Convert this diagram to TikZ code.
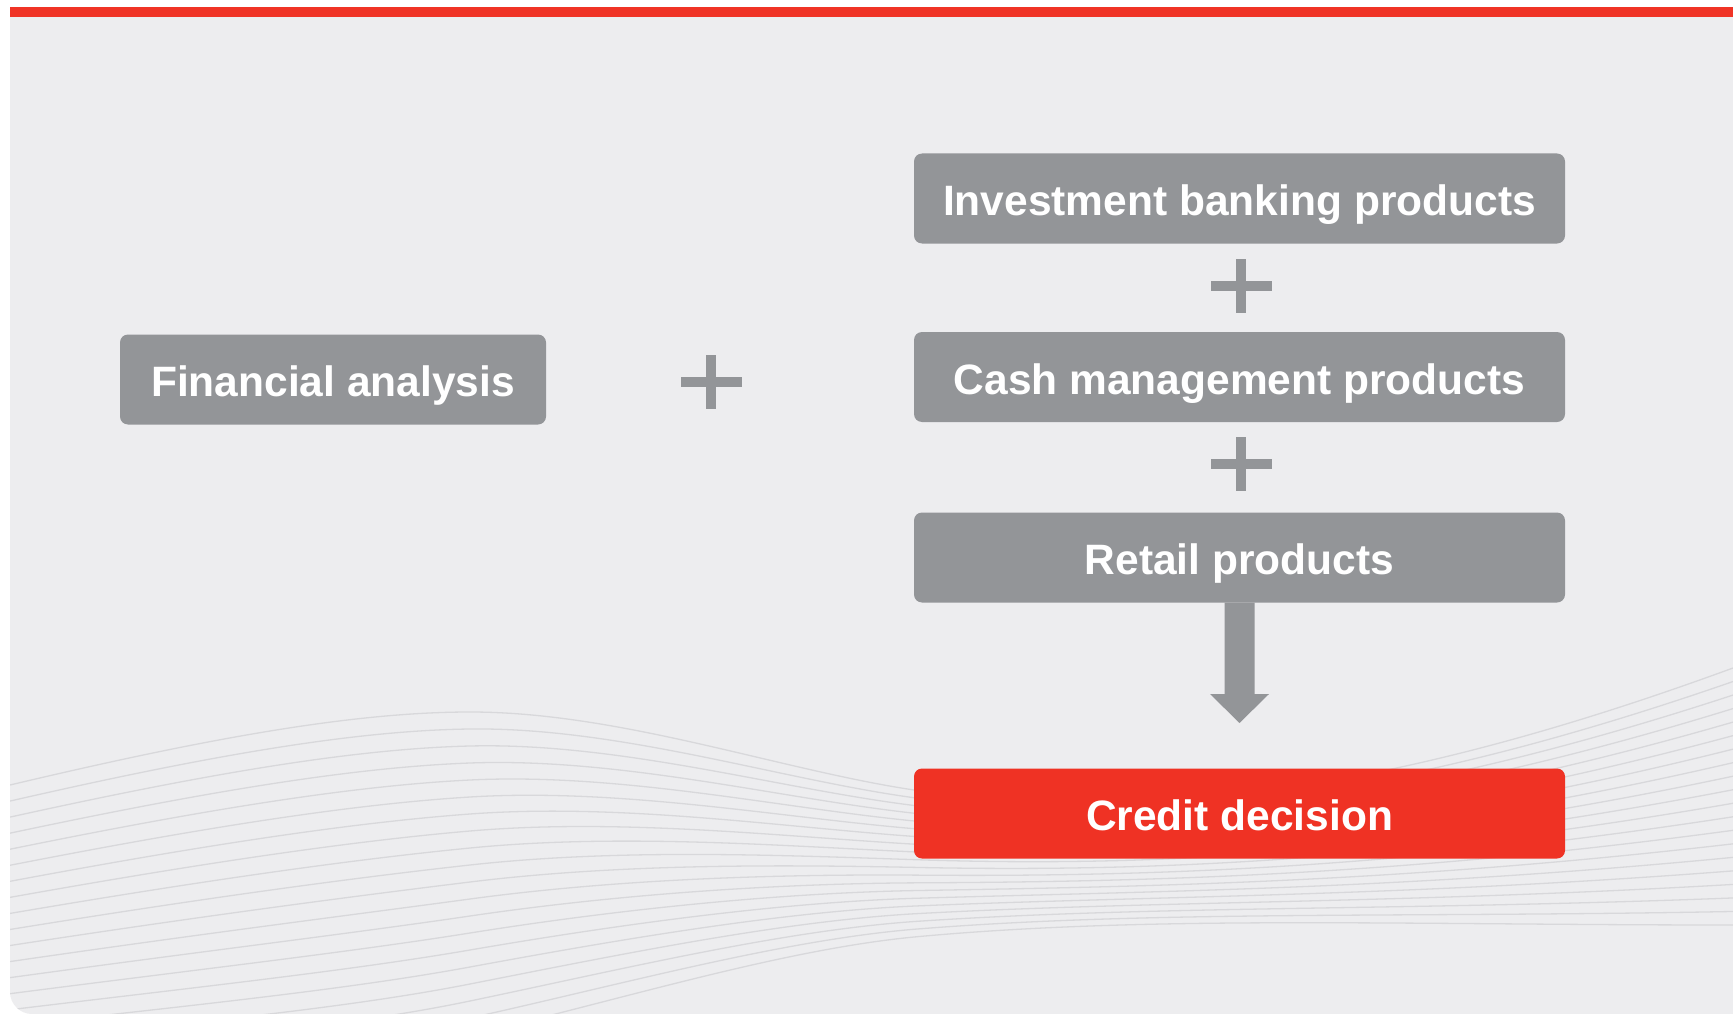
\documentclass[tikz,border=0pt]{standalone}
\usepackage{fontspec}
\setmainfont{Liberation Sans}
\usetikzlibrary{calc}
\definecolor{bg}{RGB}{237,237,239}
\definecolor{boxgray}{RGB}{147,149,152}
\definecolor{cred}{RGB}{239,50,36}
\definecolor{barred}{RGB}{240,52,38}
\definecolor{wave}{RGB}{216,216,219}
\begin{document}
\begin{tikzpicture}[x=1pt,y=-1pt,
  blk/.style={rounded corners=8pt, minimum height=90pt, inner sep=0pt, text=white,
    font=\fontsize{42.5}{50}\selectfont\bfseries, text height=34pt, text depth=0pt},
  graybox/.style={blk, fill=boxgray, minimum width=651pt},
  redbox/.style={blk, fill=cred, minimum width=651pt},
  wavestyle/.style={draw=wave, line width=1.3pt},
  plusmark/.pic={\fill[boxgray] (-30.5,-5) rectangle (30.5,5); \fill[boxgray] (-5,-27) rectangle (5,27);}]
\useasboundingbox (0,0) rectangle (1733,1014);
\fill[white] (0,0) rectangle (1733,1014);
% panel
\fill[bg] (1733,1014) -- (1733,17) -- (10,17) -- (10,992) .. controls (10,1004) and (20,1014) .. (32,1014) -- cycle;
\fill[barred] (10,7) rectangle (1733,17);
% waves
\begin{scope}
\clip (1733,1014) -- (1733,17) -- (10,17) -- (10,992) .. controls (10,1004) and (20,1014) .. (32,1014) -- cycle;
\foreach \i in {0,...,19}{
  \pgfmathsetmacro\t{\i/19}
  \draw[wavestyle] ($(10,785)!\t!(10,1090)$)
    .. controls ($(200,740)!\t!(200,1075)$) and ($(350,712)!\t!(350,1063)$) .. ($(470,712)!\t!(470,1035)$)
    .. controls ($(620,712)!\t!(620,1000)$) and ($(780,770)!\t!(780,950)$) .. ($(914,790)!\t!(914,937)$)
    .. controls ($(1150,825)!\t!(1150,915)$) and ($(1400,790)!\t!(1400,925)$) .. ($(1733,668)!\t!(1733,925)$);
}
\end{scope}
% boxes
\node[graybox, minimum width=426pt] (fin) at (333,379.5) {Financial analysis};
\node[graybox] (inv) at (1239.5,198.5) {Investment banking products};
\node[graybox] (cash) at (1239.5,377) {Cash management products};
\node[graybox] (retail) at (1239.5,557.5) {Retail products};
\node[redbox] (credit) at (1239.5,813.5) {Credit decision};
% plus signs
\pic at (711,382) {plusmark};
\pic at (1241,286) {plusmark};
\pic at (1241,464) {plusmark};
% arrow
\coordinate (tip) at (1239.5,723);
\fill[boxgray] ($(retail.south)+(-15,0)$) -- ($(retail.south)+(15,0)$) -- ($(tip)+(15,-29)$) -- ($(tip)+(29.5,-29)$) -- (tip) -- ($(tip)+(-29.5,-29)$) -- ($(tip)+(-15,-29)$) -- cycle;
\end{tikzpicture}
\end{document}
